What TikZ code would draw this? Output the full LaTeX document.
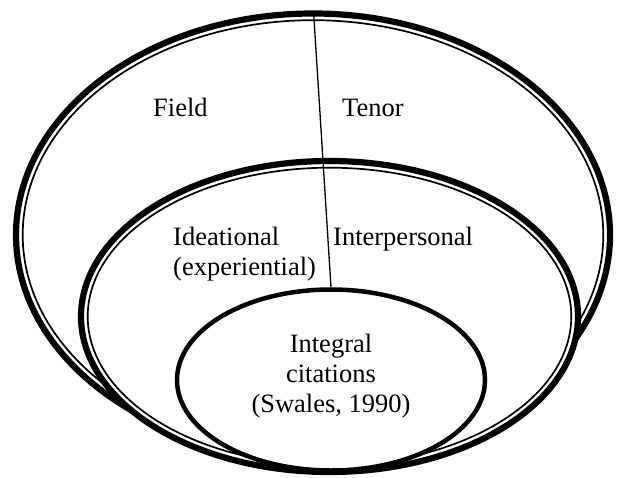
\documentclass[tikz,border=0pt]{standalone}
\usepackage{fontspec}
\setmainfont{Liberation Serif}
\usetikzlibrary{shapes.geometric}
\tikzset{
  thickring/.style={line width=6.2pt},
  thinring/.style={line width=1.7pt},
  lbl/.style={inner sep=0pt, font=\fontsize{26.5}{30}\selectfont},
}
\begin{document}
\begin{tikzpicture}[x=1pt,y=-1pt]
\useasboundingbox (0,0) rectangle (617,478);
% outer (Field / Tenor)
\draw[thickring] (313,235) ellipse [x radius=297, y radius=221.5];
\draw[thinring] (313,235) ellipse [x radius=290.3, y radius=214.8];
% middle (Ideational / Interpersonal)
\draw[thickring, fill=white] (329.5,316.5) ellipse [x radius=248.5, y radius=155.5];
\draw[thinring] (329.5,316.5) ellipse [x radius=241.8, y radius=148.8];
% inner (Integral citations)
\node[ellipse, draw, line width=4.5pt, fill=white, minimum width=308pt, minimum height=181pt, inner sep=0pt] (inner) at (331,380) {};
\node[lbl, align=center] (cit) at (331,376) {Integral\\citations\\(Swales, 1990)};
% labels
\node[lbl, anchor=base west] (field) at (153,117) {Field};
\node[lbl, anchor=base west] (tenor) at (342,117) {Tenor};
\node[lbl, anchor=north west, align=left] (idea) at (173,227) {Ideational\\(experiential)};
\node[lbl, anchor=base west] (inter) at (333,245) {Interpersonal};
% divider
\coordinate (apex) at (313.5,11);
\draw[line width=1.3pt] (apex) -- (inner.north);
\end{tikzpicture}
\end{document}
